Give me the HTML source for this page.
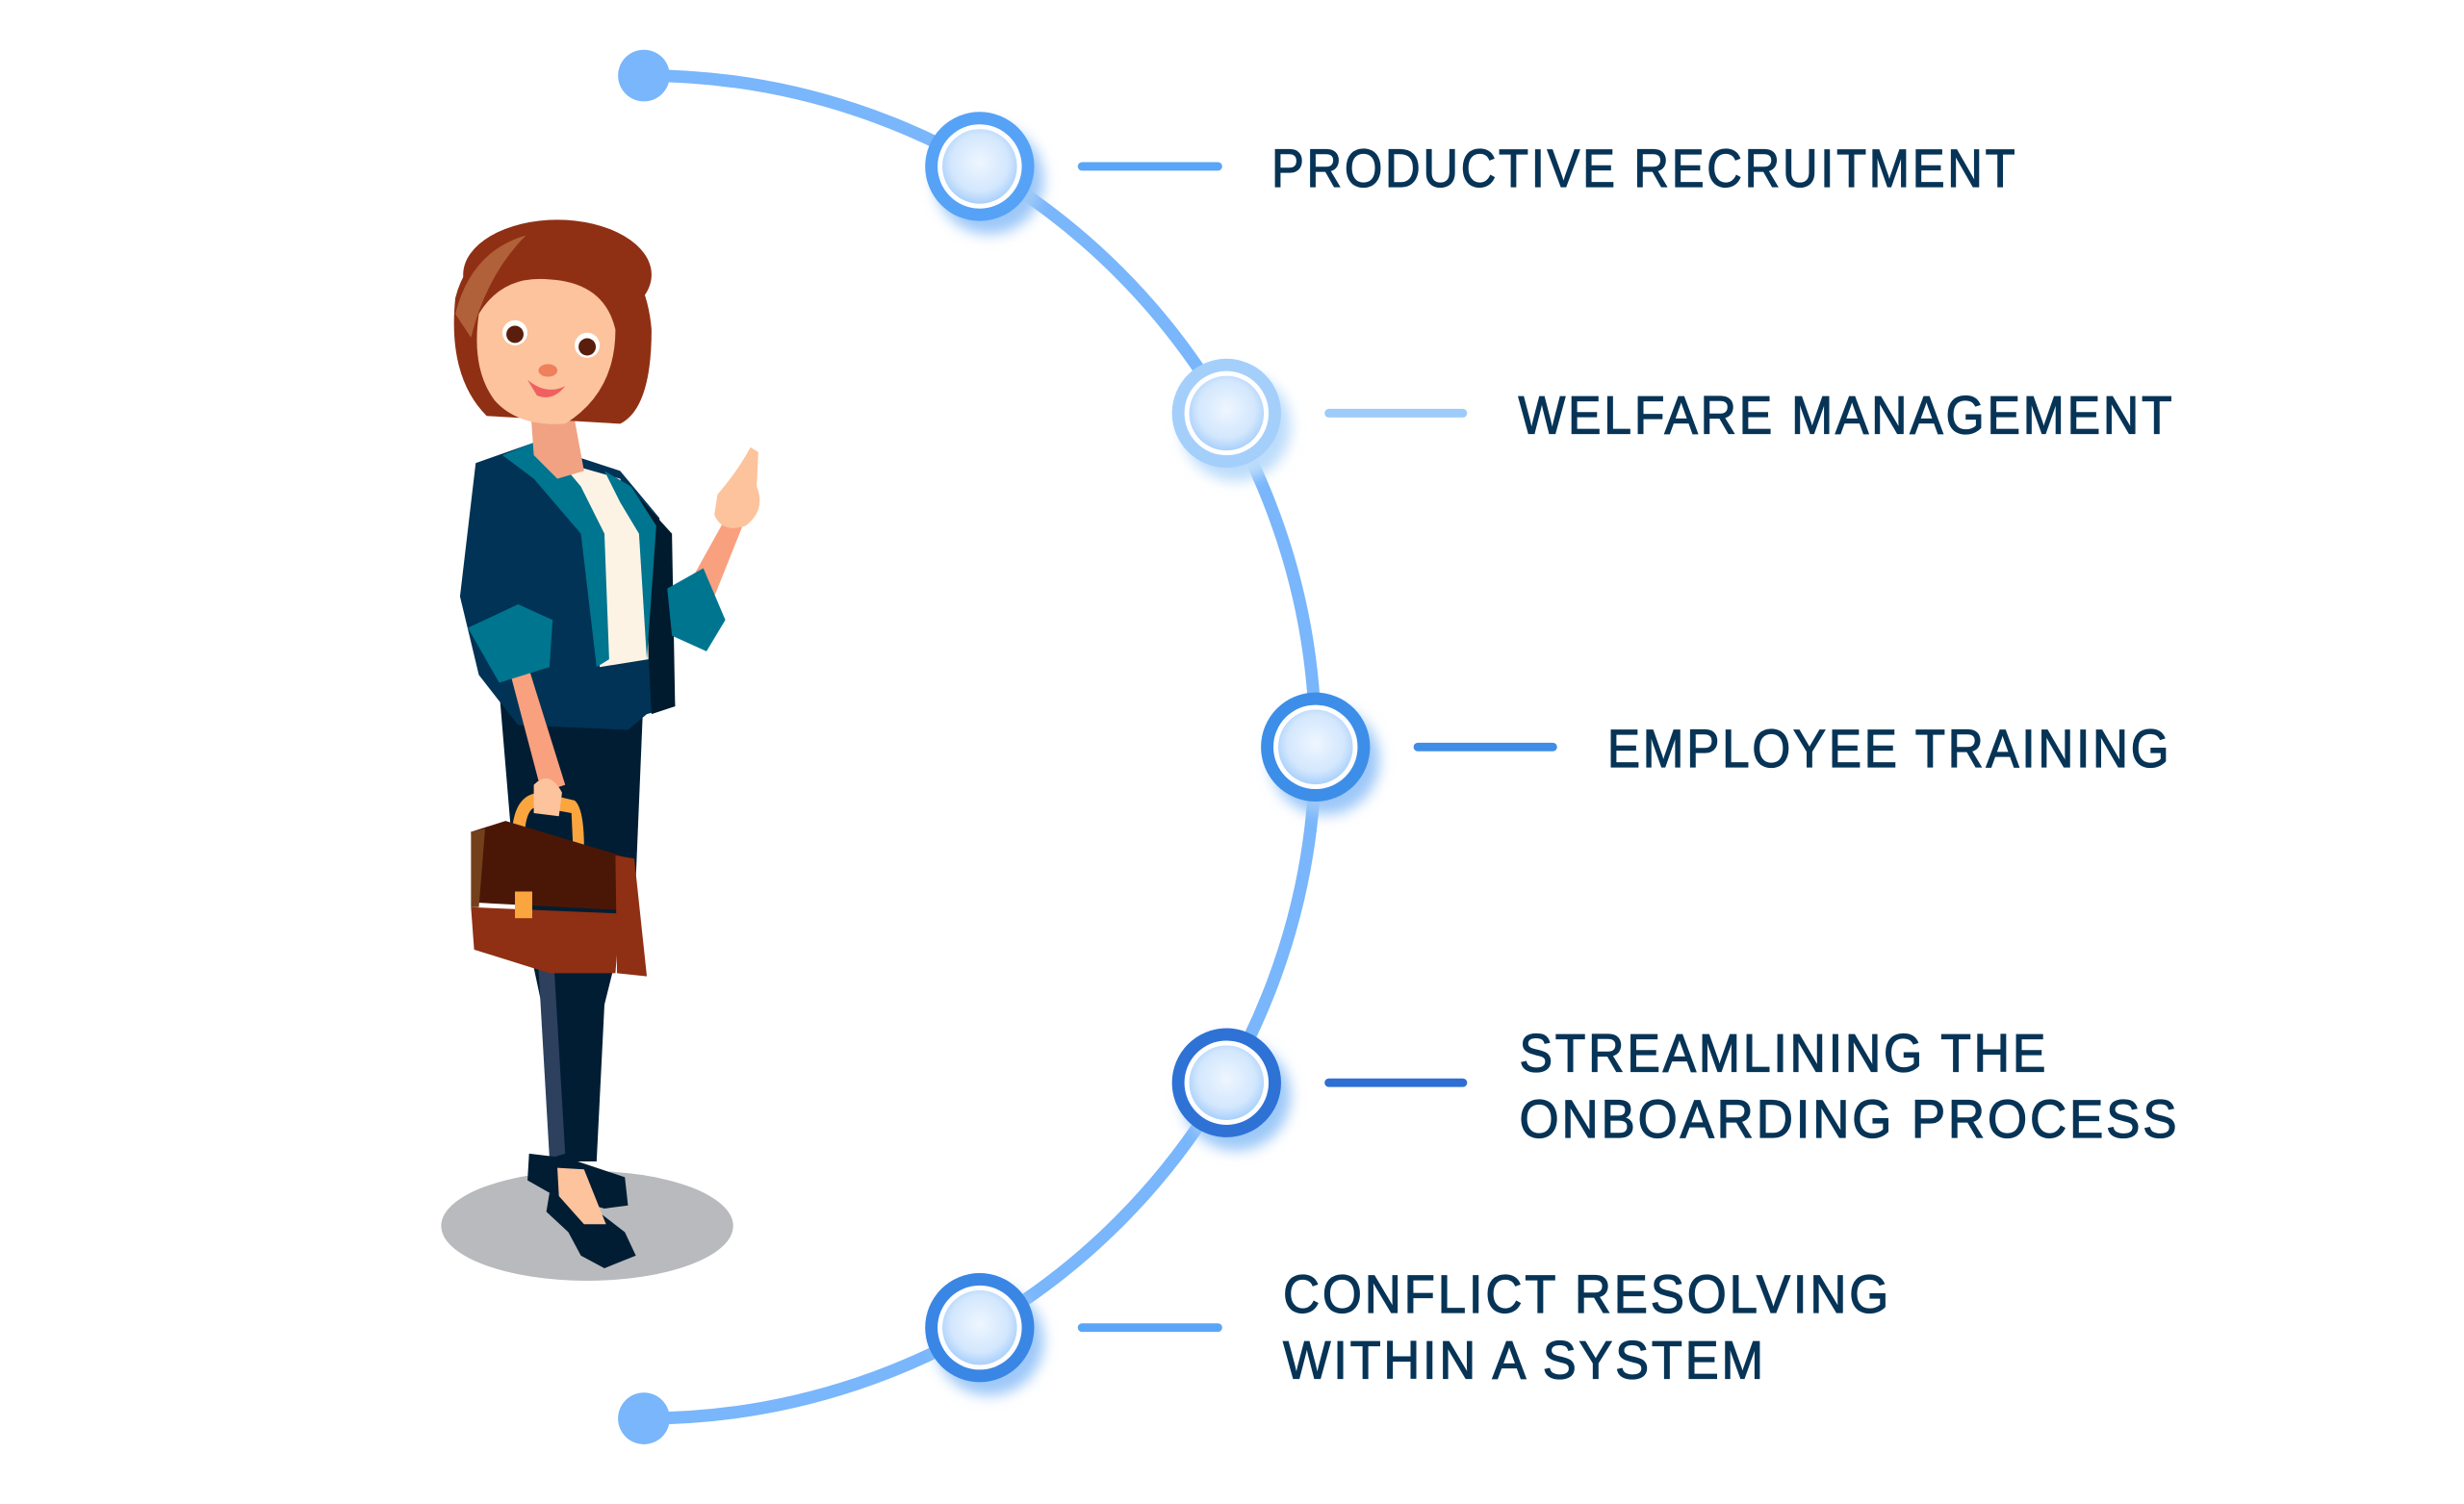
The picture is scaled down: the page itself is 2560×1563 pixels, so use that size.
<!DOCTYPE html>
<html><head><meta charset="utf-8"><style>
html,body{margin:0;padding:0;background:#fff;}
svg{display:block;}
text{font-family:"Liberation Sans",sans-serif;fill:#073456;stroke:#073456;stroke-width:1.2px;font-size:56px;letter-spacing:3px;}
</style></head><body>
<svg width="2560" height="1563" viewBox="0 0 2560 1563" xmlns="http://www.w3.org/2000/svg">
<defs>
<radialGradient id="inner" cx="50%" cy="45%" r="55%">
<stop offset="0" stop-color="#eef6ff"/><stop offset="0.7" stop-color="#d3e7fd"/><stop offset="1" stop-color="#a9d0fb"/>
</radialGradient>
<filter id="sh" x="-50%" y="-50%" width="200%" height="200%"><feGaussianBlur stdDeviation="7"/></filter>
</defs>
<g transform="scale(0.994)">
<path d="M673,79 A702,702 0 0 1 673,1483" fill="none" stroke="#79b6fb" stroke-width="13"/>
<circle cx="673" cy="79" r="27" fill="#79b6fb"/>
<circle cx="673" cy="1483" r="27" fill="#79b6fb"/>
<g stroke-width="9" stroke-linecap="round">
<line x1="1131" y1="174" x2="1273" y2="174" stroke="#5aa5f7"/>
<line x1="1389" y1="432" x2="1529" y2="432" stroke="#9dcbfa"/>
<line x1="1482" y1="781" x2="1623" y2="781" stroke="#3f8de6"/>
<line x1="1389" y1="1132" x2="1529" y2="1132" stroke="#2f6fd3"/>
<line x1="1131" y1="1388" x2="1273" y2="1388" stroke="#5aa5f7"/>
</g>
<g>
<g transform="translate(1024,174)"><circle cx="10" cy="14" r="57" fill="#9cc8f8" filter="url(#sh)"/><circle r="57" fill="#56a2f6"/><circle r="44" fill="#fff"/><circle r="39" fill="url(#inner)"/></g>
<g transform="translate(1282,432)"><circle cx="10" cy="14" r="57" fill="#bcdcfb" filter="url(#sh)"/><circle r="57" fill="#a5cffb"/><circle r="44" fill="#fff"/><circle r="39" fill="url(#inner)"/></g>
<g transform="translate(1375,781)"><circle cx="10" cy="14" r="57" fill="#9cc8f8" filter="url(#sh)"/><circle r="57" fill="#3d8ee8"/><circle r="44" fill="#fff"/><circle r="39" fill="url(#inner)"/></g>
<g transform="translate(1282,1132)"><circle cx="10" cy="14" r="57" fill="#9cc8f8" filter="url(#sh)"/><circle r="57" fill="#2e72d6"/><circle r="44" fill="#fff"/><circle r="39" fill="url(#inner)"/></g>
<g transform="translate(1024,1388)"><circle cx="10" cy="14" r="57" fill="#9cc8f8" filter="url(#sh)"/><circle r="57" fill="#3a86e5"/><circle r="44" fill="#fff"/><circle r="39" fill="url(#inner)"/></g>
</g>
<text x="1329" y="195" textLength="780" lengthAdjust="spacingAndGlyphs">PRODUCTIVE RECRUITMENT</text>
<text x="1587" y="453" textLength="686" lengthAdjust="spacingAndGlyphs">WELFARE MANAGEMENT</text>
<text x="1680" y="802" textLength="590" lengthAdjust="spacingAndGlyphs">EMPLOYEE TRAINING</text>
<text x="1588" y="1120" textLength="553" lengthAdjust="spacingAndGlyphs">STREAMLINING THE</text>
<text x="1588" y="1189" textLength="690" lengthAdjust="spacingAndGlyphs">ONBOARDING PROCESS</text>
<text x="1341" y="1372" textLength="636" lengthAdjust="spacingAndGlyphs">CONFLICT RESOLVING</text>
<text x="1341" y="1441" textLength="505" lengthAdjust="spacingAndGlyphs">WITHIN A SYSTEM</text>
<g transform="scale(1.641)">
<ellipse cx="374" cy="781" rx="93" ry="35" fill="#b9babe"/>
<path d="M318,440 L410,440 L405,560 L385,640 L380,740 L352,740 L345,640 L328,560 Z" fill="#011d33"/>
<path d="M342,600 L352,600 L360,735 L350,738 Z" fill="#2d405e"/>
<path d="M337,735 L362,738 L398,750 L400,768 L385,770 L350,760 L336,752 Z" fill="#011d33"/>
<path d="M350,760 L372,765 L398,785 L405,800 L385,808 L370,800 L362,785 L348,772 Z" fill="#011d33"/>
<path d="M355,744 L372,745 L386,780 L372,780 L356,762 Z" fill="#fcc39c"/>
<path d="M303,295 L340,282 L395,300 L420,330 L430,450 L412,455 L400,465 L330,462 L305,430 L293,380 Z" fill="#003355"/>
<path d="M408,318 L428,340 L430,450 L415,455 Z" fill="#001a2e"/>
<path d="M360,295 L395,305 L412,345 L413,420 L382,425 L378,345 Z" fill="#fdf3e5"/>
<path d="M320,290 L345,280 L370,310 L385,340 L388,420 L380,425 L370,340 L340,305 Z" fill="#00758f"/>
<path d="M385,300 L402,310 L418,335 L412,420 L407,340 L395,320 Z" fill="#00758f"/>
<path d="M338,262 L365,262 L372,300 L355,305 L340,290 Z" fill="#f0a283"/>
<ellipse cx="355" cy="175" rx="60" ry="35" fill="#8f3014"/>
<path d="M290,190 Q300,150 350,145 Q410,150 415,210 Q415,260 395,270 L310,265 Q285,240 290,190 Z" fill="#8f3014"/>
<path d="M305,200 Q320,175 350,178 Q385,180 392,210 Q392,250 360,270 Q330,272 315,255 Q300,235 305,200 Z" fill="#fcc39c"/>
<path d="M290,200 Q300,160 335,150 Q310,175 300,215 Z" fill="#b0613a"/>
<circle cx="328" cy="212" r="8" fill="#fff"/><circle cx="328" cy="213" r="5.5" fill="#5a1e0c"/>
<circle cx="374" cy="220" r="8" fill="#fff"/><circle cx="374" cy="221" r="5.5" fill="#5a1e0c"/>
<ellipse cx="349" cy="236" rx="6" ry="4" fill="#f07f5c"/>
<path d="M336,242 Q348,252 360,246 Q352,256 342,252 Z" fill="#f06060"/>
<path d="M320,410 L335,420 L360,500 L345,505 Z" fill="#f9a07f"/>
<path d="M298,400 L330,385 L352,395 L350,425 L318,435 Z" fill="#00758f"/>
<path d="M440,370 L465,325 L475,330 L455,380 Z" fill="#f9a07f"/>
<path d="M457,315 Q470,300 478,285 L483,288 L482,310 Q488,325 475,335 Q460,340 455,328 Z" fill="#fcc39c"/>
<path d="M425,375 L448,362 L462,395 L450,415 L428,405 Z" fill="#00758f"/>
<path d="M326,535 Q326,505 345,505 L366,510 Q372,515 372,540 L365,540 L364,518 L342,514 Q334,515 334,537 Z" fill="#fba53f"/>
<path d="M300,530 L322,523 L395,545 L398,580 L302,575 Z" fill="#4a1707"/>
<path d="M300,530 L309,528 L305,578 L300,578 Z" fill="#74401c"/>
<path d="M300,578 L395,582 L392,620 L350,620 L302,605 Z" fill="#8f2f13"/>
<path d="M392,545 L404,547 L412,622 L393,620 Z" fill="#8f2f13"/>
<rect x="328" y="568" width="11" height="17" fill="#fba53f"/>
<path d="M340,500 Q350,490 358,505 L356,520 L340,518 Z" fill="#fcc39c"/>
</g>
</g>
</svg>
</body></html>
